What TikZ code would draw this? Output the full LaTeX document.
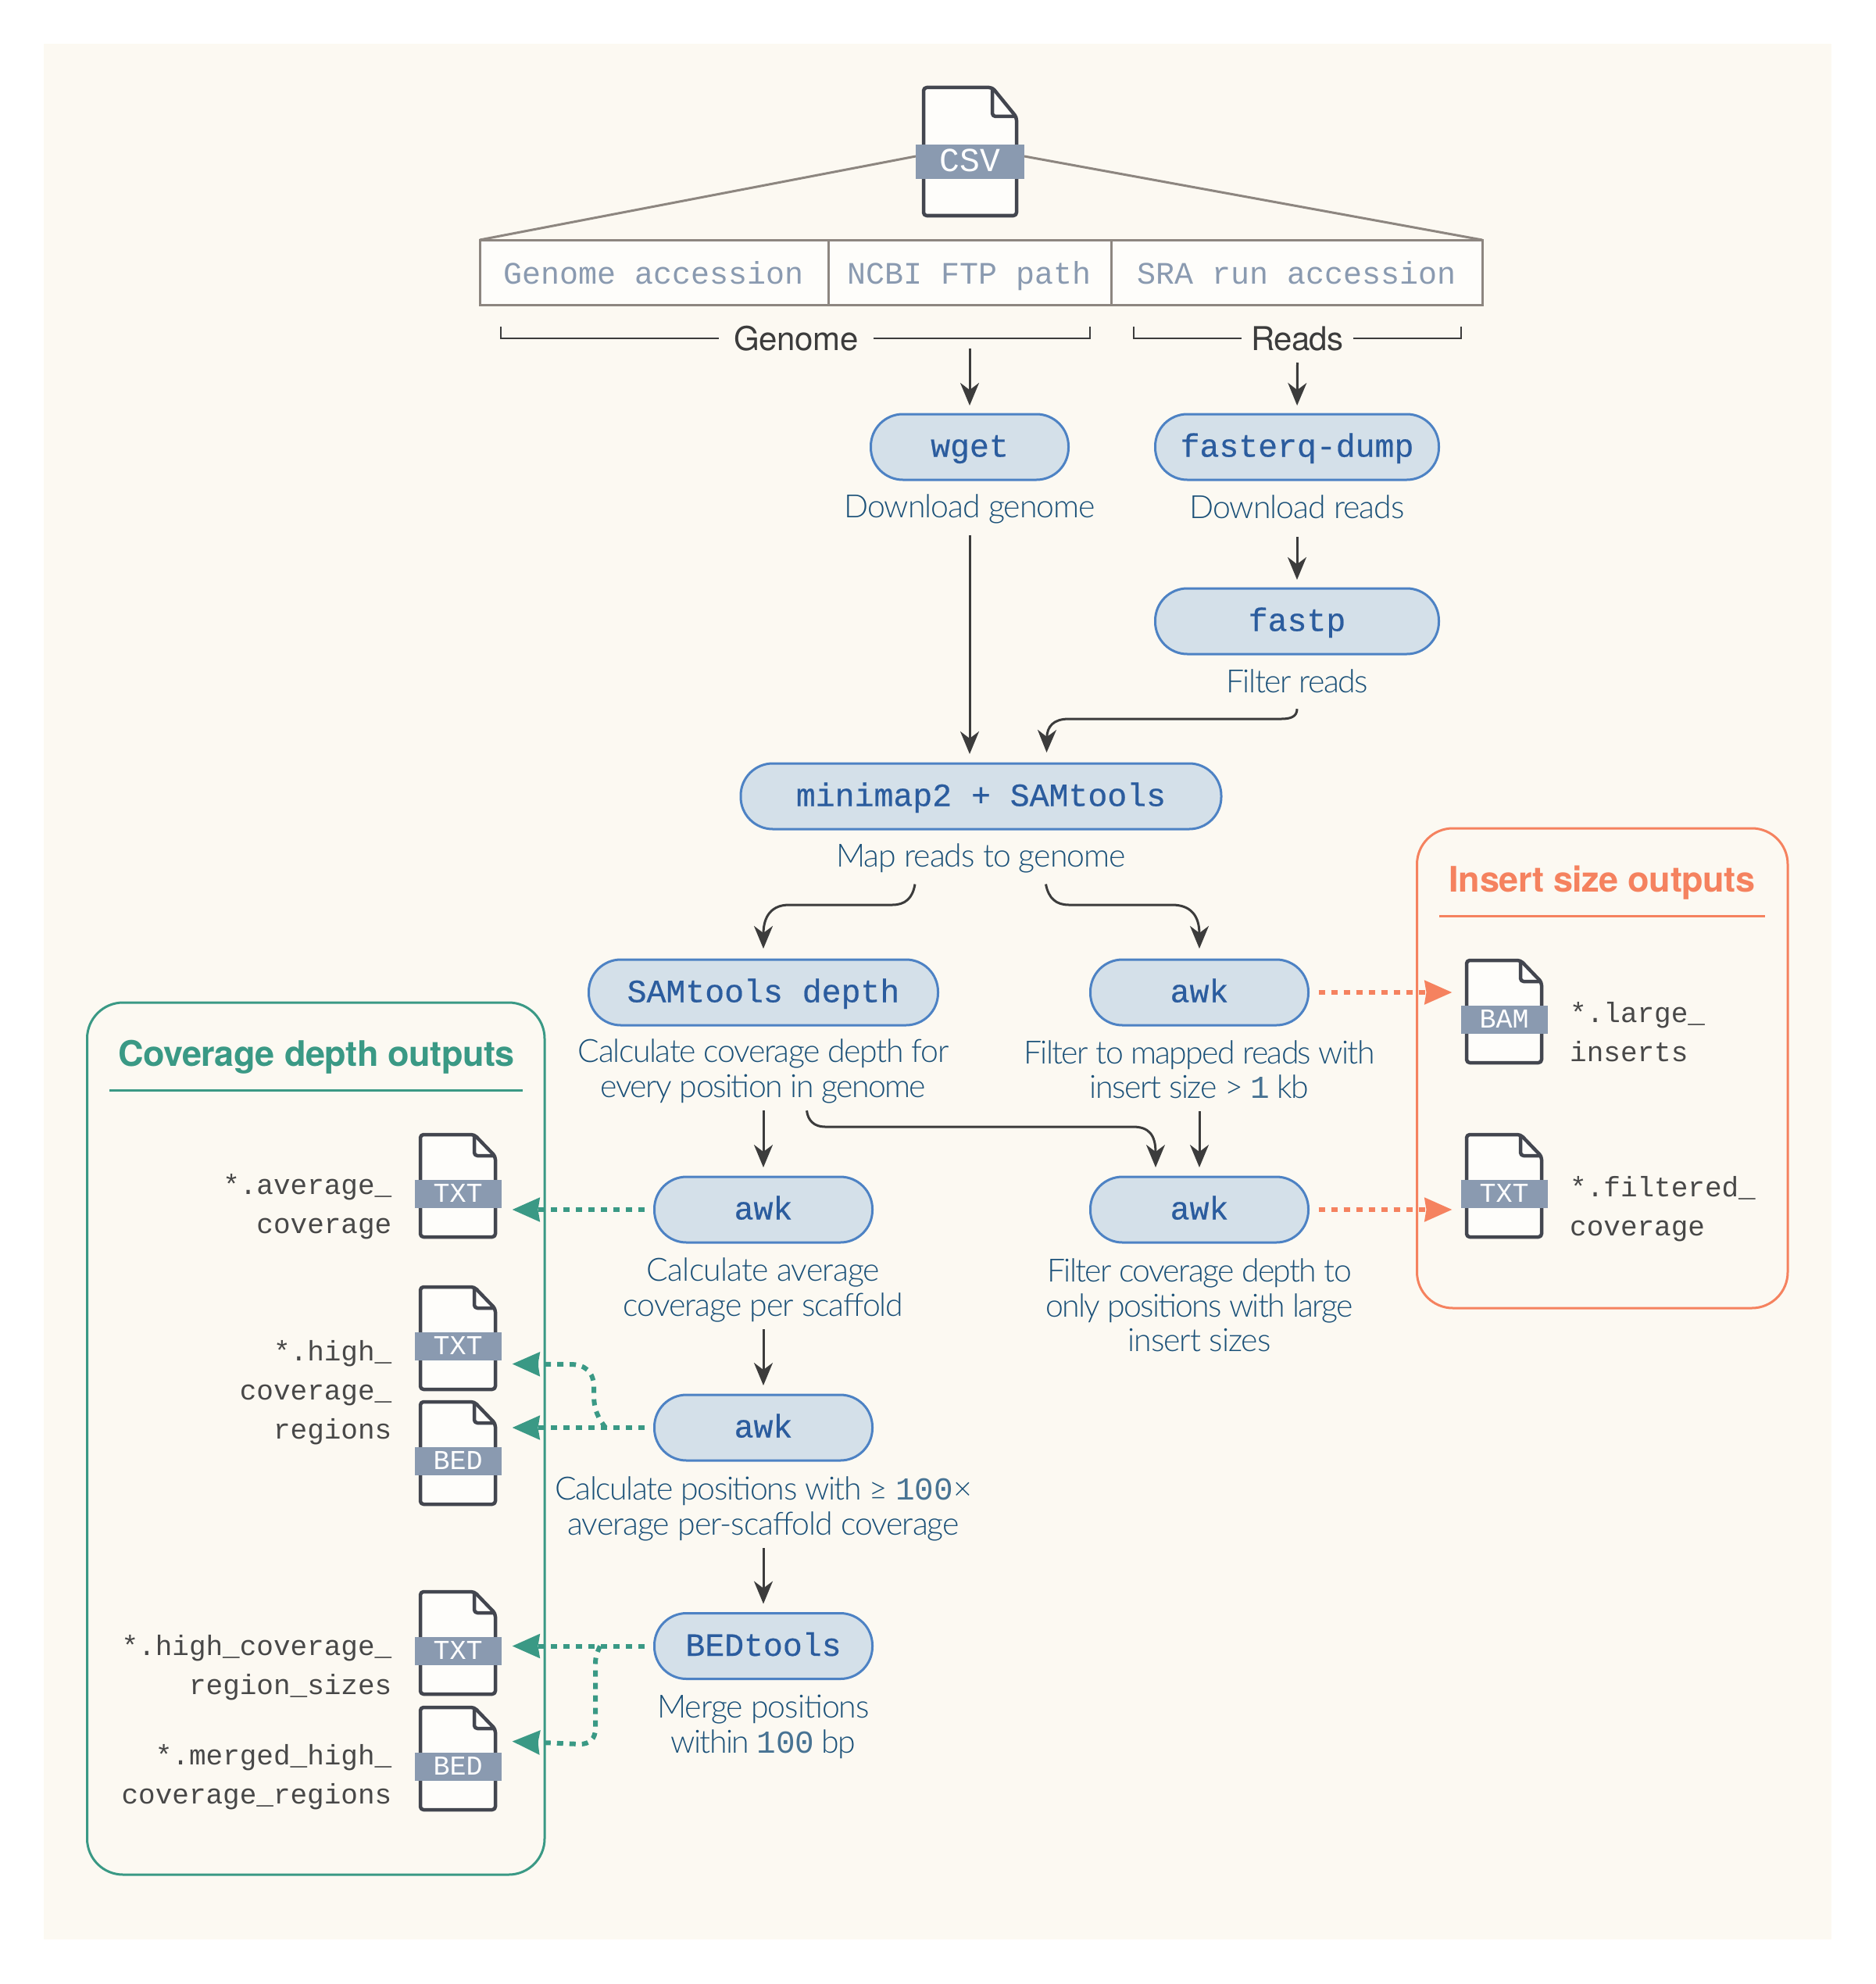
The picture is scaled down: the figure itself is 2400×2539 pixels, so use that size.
\documentclass[tikz,border=0pt]{standalone}
\usepackage{fontspec}
\usetikzlibrary{arrows.meta,calc}
\setmainfont{Liberation Sans}
\newfontfamily\capfam[UprightFont=* Light,LetterSpace=-2.5]{Lato}
\newfontfamily\headfam[LetterSpace=-1]{TeX Gyre Heros}
\newfontfamily\monofam{Liberation Mono}
\newfontfamily\pillfam[FakeBold=0.5]{Liberation Mono}
\newcommand\capst{\rule[-7pt]{0pt}{40pt}}
\newcommand\lsp[1]{\addfontfeature{LetterSpace=#1}}
\newcommand\dg[1]{{\monofam\color{captext!80}#1}}
\definecolor{cream}{HTML}{FCF9F2}
\definecolor{paper}{HTML}{FEFDFA}
\definecolor{pillfill}{HTML}{D4E0E9}
\definecolor{pillline}{HTML}{4D82C4}
\definecolor{pilltext}{HTML}{2B5C9E}
\definecolor{captext}{HTML}{1A5078}
\definecolor{ink}{HTML}{3C3C3C}
\definecolor{fileink}{HTML}{484848}
\definecolor{docline}{HTML}{43464F}
\definecolor{slate}{HTML}{8A9AB0}
\definecolor{tableline}{HTML}{8D8680}
\definecolor{grn}{HTML}{3A9985}
\definecolor{org}{HTML}{F5825F}
\tikzset{
  pill/.style={draw=pillline,fill=pillfill,line width=3pt,rounded corners=41pt,minimum height=84pt,inner sep=0pt,outer sep=0pt,
    text=pilltext,text height=33pt,text depth=8pt,font=\pillfam\fontsize{41.5}{44}\selectfont},
  capt/.style={inner sep=0pt,align=center,text=captext,font=\capfam\fontsize{41}{44.5}\selectfont},
  arr/.style={draw=ink,line width=3pt,-{Stealth[length=29pt,width=24pt,inset=9pt]}},
  gdot/.style={draw=grn,line width=6pt,dash pattern=on 8pt off 8pt,-{Stealth[length=35pt,width=30pt,inset=2pt,fill=grn,sep=0pt]}},
  odot/.style={draw=org,line width=6pt,dash pattern=on 8pt off 8pt,-{Stealth[length=35pt,width=30pt,inset=2pt,fill=org,sep=0pt]}},
  cell/.style={draw=tableline,fill=paper,line width=3pt,minimum height=83pt,inner sep=0pt,outer sep=0pt,text=slate,
    text height=40pt,text depth=10pt,font=\monofam\fontsize{40}{44}\selectfont},
  docbody/.style={draw=docline,fill=paper,line width=4.5pt,line join=round,rounded corners=4pt},
  doctag/.style={fill=slate,inner sep=0pt,outer sep=0pt,text=white,text height=21pt,text depth=0pt,font=\monofam\fontsize{35}{36}\selectfont},
  fname/.style={inner sep=0pt,align=right,text=fileink,font=\monofam\fontsize{36}{50}\selectfont},
  fnamel/.style={inner sep=0pt,align=left,text=fileink,font=\monofam\fontsize{36}{50}\selectfont},
  outgroup/.style={draw=#1,line width=3pt,fill=none,rounded corners=46pt},
  grouptitle/.style={inner sep=0pt,text=#1,font=\headfam\bfseries\fontsize{45}{48}\selectfont},
  bracketline/.style={draw=ink,line width=2.6pt},
  bracktext/.style={inner sep=0pt,outer sep=0pt,text=ink,text height=30pt,text depth=0pt,font=\headfam\fontsize{42}{44}\selectfont},
}
\newcommand\docicon[4]{% name, cx, top, label
  \begin{scope}[shift={(#2,#3)}]
    \draw[docbody] (-48,2) -- (21,2) -- (48,30) -- (48,133) -- (-48,133) -- cycle;
    \draw[draw=docline,line width=4.5pt,line join=round,rounded corners=4pt] (21,2) -- (21,29) -- (48,29);
    \node[doctag,minimum width=111pt,minimum height=36pt] (#1) at (0,77.5) {#4};
  \end{scope}}
\begin{document}
\begin{tikzpicture}[x=1pt,y=-1pt]
\useasboundingbox (0,0) rectangle (2400,2539);
\fill[white] (0,0) rectangle (2400,2539);
\fill[cream] (56,56) rectangle (2344,2482);

% csv lines and table
\node[cell,minimum width=446pt] (t1) at (837,348.5) {Genome accession};
\node[cell,minimum width=362pt] (t2) at (1241,348.5) {NCBI FTP path};
\node[cell,minimum width=475pt] (t3) at (1659.5,348.5) {SRA run accession};

% csv document
\begin{scope}[shift={(1241.5,110)}]
  \draw[docbody] (-59.5,2) -- (28.5,2) -- (59.5,40) -- (59.5,166) -- (-59.5,166) -- cycle;
  \draw[draw=docline,line width=4.5pt,line join=round,rounded corners=4pt] (28.5,2) -- (28.5,39) -- (59.5,39);
  \node[doctag,minimum width=139pt,minimum height=44pt,text height=26pt,font=\monofam\fontsize{43}{44}\selectfont] (csv) at (0,97) {CSV};
\end{scope}
\draw[draw=tableline,line width=3pt] ([yshift=7pt]csv.west) -- (t1.north west);
\draw[draw=tableline,line width=3pt] ([yshift=7pt]csv.east) -- (t3.north east);

% brackets
\node[bracktext,minimum width=198pt] (genome) at (1019,433) {Genome};
\node[bracktext,minimum width=143pt] (reads) at (1660.5,433) {\addfontfeature{LetterSpace=-2}Reads};
\draw[bracketline] (genome.west) -- (641,433) -- (641,418);
\draw[bracketline] (genome.east) -- (1395,433) -- (1395,418);
\draw[bracketline] (reads.west) -- (1451,433) -- (1451,418);
\draw[bracketline] (reads.east) -- (1870,433) -- (1870,418);

% pills and captions
\node[pill,minimum width=253pt] (wget) at (1241,572) {wget};
\node[capt] (capwget) at (1241,650) {\capst Download genome};
\node[pill,minimum width=363pt] (fasterq) at (1660,572) {fasterq-dump};
\node[capt] (capdump) at (1660,650) {\capst Download reads};
\node[pill,minimum width=363pt] (fastp) at (1660,795) {fastp};
\node[capt] (capfastp) at (1660,873) {\capst\lsp{-3.8}Filter reads};
\node[pill,minimum width=615pt] (minimap) at (1255.5,1019) {minimap2 + SAMtools};
\node[capt] (capmap) at (1255.5,1097) {\capst Map reads to genome};
\node[pill,minimum width=447pt] (depth) at (977,1270) {SAMtools depth};
\node[capt] (capdepth) at (977,1369.5) {\capst\lsp{-3.4}Calculate coverage depth for\\\capst\lsp{-3.8}every position in genome};
\node[pill,minimum width=279pt] (awka) at (1535,1270) {awk};
\node[capt] (capawka) at (1535,1370.5) {\capst\lsp{-4.1}Filter to mapped reads with\\\capst\lsp{-3.5}insert size > \dg{1} kb};
\node[pill,minimum width=279pt] (awkc) at (977,1548) {awk};
\node[capt] (capawkc) at (977,1649.5) {\capst\lsp{-2}Calculate average\\\capst coverage per scaffold};
\node[pill,minimum width=279pt] (awkb) at (1535,1548) {awk};
\node[capt] (capawkb) at (1535,1672) {\capst\lsp{-4.1}Filter coverage depth to\\\capst\lsp{-4.4}only positions with large\\\capst insert sizes};
\node[pill,minimum width=279pt] (awkd) at (977,1827) {awk};
\node[capt] (capawkd) at (977,1929.5) {\capst\lsp{-3.4}Calculate positions with ≥ \dg{100}×\\\capst average per-scaffold coverage};
\node[pill,minimum width=279pt] (bedtools) at (977,2106.5) {BEDtools};
\node[capt] (capbed) at (977,2208) {\capst Merge positions\\\capst\lsp{-4}within \dg{100} bp};

% black connectors
\draw[arr,shorten >=11pt] ([yshift=2pt]genome.south -| wget.north) -- (wget.north);
\draw[arr,shorten >=11pt] ([yshift=-16pt]reads.south) -- (fasterq.north);
\draw[arr,shorten <=14pt,shorten >=12pt] (capwget.south) -- (capwget.south |- minimap.north);
\draw[arr,shorten <=17pt,shorten >=11pt] (capdump.south) -- (fastp.north);
\draw[arr] ([yshift=-14pt]capfastp.south) .. controls (1660,917) and (1652,920) .. (1640,920) -- (1368,920) .. controls (1348,920) and (1340,930) .. ([xshift=84pt,yshift=14pt]minimap.north);
\draw[arr] ([xshift=-84.5pt,yshift=-14pt]capmap.south) .. controls (1168,1150) and (1158,1158) .. (1142,1158) -- (1010,1158) .. controls (988,1158) and (977,1172) .. ([yshift=14pt]depth.north);
\draw[arr] ([xshift=83pt,yshift=-14pt]capmap.south) .. controls (1342,1150) and (1352,1158) .. (1368,1158) -- (1500,1158) .. controls (1524,1158) and (1535,1172) .. ([yshift=14pt]awka.north);
\draw[arr,shorten <=9pt,shorten >=12pt] (capdepth.south) -- (awkc.north);
\draw[arr,shorten <=9pt,shorten >=12pt] (capawka.south) -- (awkb.north);
\draw[arr] ([xshift=55.5pt,yshift=-9pt]capdepth.south) .. controls (1034,1434) and (1042,1442) .. (1056,1442) -- (1450,1442) .. controls (1470,1442) and (1479,1452) .. ([xshift=-56pt,yshift=12pt]awkb.north);
\draw[arr,shorten <=9pt,shorten >=12pt] (capawkc.south) -- (awkd.north);
\draw[arr,shorten <=9pt,shorten >=12pt] (capawkd.south) -- (bedtools.north);

% groups
\draw[outgroup=grn] (111.5,1283) rectangle (697,2399);
\node[grouptitle=grn] (covtitle) at (405,1353) {Coverage depth outputs};
\draw[draw=grn,line width=3pt] (140,1395) -- (669,1395);
\draw[outgroup=org] (1813.5,1060) rectangle (2288,1674);
\node[grouptitle=org] (institle) at (2050.5,1130) {Insert size outputs};
\draw[draw=org,line width=3pt] (1842,1172) -- (2259,1172);

% file icons
\docicon{txta}{586}{1450}{TXT}
\docicon{txtb}{586}{1645}{TXT}
\docicon{beda}{586}{1792}{BED}
\docicon{txtc}{586}{2035}{TXT}
\docicon{bedb}{586}{2183}{BED}
\docicon{bam}{1925}{1227}{BAM}
\docicon{txtd}{1925}{1450}{TXT}

% file names
\node[fname,anchor=east] (fa) at (501.5,1543) {\strut *.average\_\\\strut coverage};
\node[fname,anchor=east] (fb) at (501.5,1781) {\strut *.high\_\\\strut coverage\_\\\strut regions};
\node[fname,anchor=east] (fc) at (501.5,2133) {\strut *.high\_coverage\_\\\strut region\_sizes};
\node[fname,anchor=east] (fd) at (501.5,2273) {\strut *.merged\_high\_\\\strut coverage\_regions};
\node[fnamel,anchor=west] (fe) at (2009,1323) {\strut *.large\_\\\strut inserts};
\node[fnamel,anchor=west] (ff) at (2009,1546.5) {\strut *.filtered\_\\\strut coverage};

% dotted connectors
\draw[gdot,shorten <=13pt,shorten >=14pt] (awkc.west) -- (awkc.west -| txta.east);
\draw[gdot,shorten <=13pt,shorten >=14pt] (awkd.west) -- (awkd.west -| beda.east);
\coordinate (gbranch) at (775,1827);
\draw[gdot] (gbranch) .. controls (766,1815) and (760,1805) .. (760,1785) -- (760,1775) .. controls (760,1755) and (748,1746) .. (730,1746) -- ([xshift=14pt,yshift=-23pt]txtb.east);
\draw[gdot,shorten <=13pt,shorten >=14pt] (bedtools.west) -- (bedtools.west -| txtc.east);
\coordinate (hbranch) at (768,2106.5);
\draw[gdot] (hbranch) .. controls (764,2115) and (762,2120) .. (762,2130) -- (762,2212) .. controls (762,2225) and (755,2232) .. (742,2232) -- ([xshift=14pt,yshift=32pt]bedb.east);
\draw[odot,shorten <=13pt,shorten >=11pt] (awka.east) -- (awka.east -| bam.west);
\draw[odot,shorten <=13pt,shorten >=11pt] (awkb.east) -- (awkb.east -| txtd.west);
\end{tikzpicture}
\end{document}
